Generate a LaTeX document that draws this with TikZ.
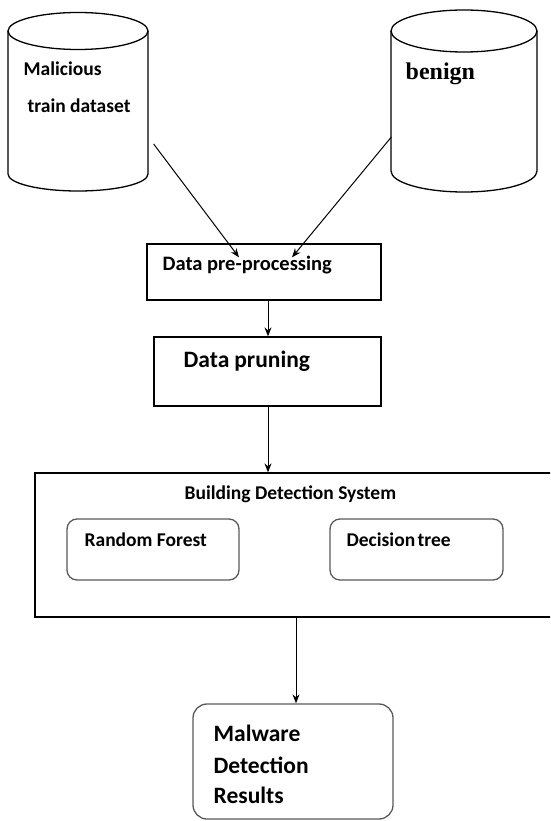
\documentclass[tikz,border=0pt]{standalone}
\usepackage{fontspec}
\setmainfont{Carlito}
\newfontfamily\serifbold{Liberation Serif}
\usetikzlibrary{arrows.meta,shapes.geometric}
\begin{document}
\begin{tikzpicture}[x=1pt,y=-1pt,
  line width=1.3pt,
  arr/.style={-{Stealth[length=9pt,width=7pt]}, line width=1pt},
  plainbox/.style={draw, rectangle, inner sep=0pt},
  softbox/.style={draw=black!65, rectangle, rounded corners=10pt, inner sep=0pt},
  rim/.style={draw, ellipse, inner sep=0pt},
  lbl/.style={anchor=base west, inner sep=0pt, font=\bfseries\fontsize{19.5}{22}\selectfont},
  biglbl/.style={anchor=base west, inner sep=0pt, font=\bfseries\fontsize{23.5}{26}\selectfont}]
\useasboundingbox (0,0) rectangle (550,821);
\clip (0,0) rectangle (550,821);

% data stores: side walls with the lower rim, then the top rim
\node (mal) [minimum width=140pt, minimum height=178pt, inner sep=0pt] at (78,102) {};
\draw (8,31) -- (8,174) arc[start angle=180, end angle=360, x radius=70pt, y radius=17pt] -- (148,31);
\node[rim, minimum width=140pt, minimum height=37pt] (maltop) at (78,31) {};
\node (ben) [minimum width=146pt, minimum height=183pt, inner sep=0pt] at (464,100.5) {};
\draw (391,31) -- (391,171) arc[start angle=180, end angle=360, x radius=73pt, y radius=21pt] -- (537,31);
\node[rim, minimum width=146pt, minimum height=42pt] (bentop) at (464,31) {};
\node[lbl] (maltxt1) at (23,76) {Malicious};
\node[lbl] (maltxt2) at (27,113) {train dataset};
\node[anchor=base west, inner sep=0pt, font=\serifbold\bfseries\fontsize{24}{27}\selectfont] (bentxt) at (405,80) {benign};

% processing steps
\node[plainbox, minimum width=234pt, minimum height=56pt] (pre) at (264,272) {};
\node[lbl, font=\bfseries\fontsize{20.5}{23}\selectfont] (pretxt) at (162,270) {Data pre-processing};
\node[plainbox, minimum width=227pt, minimum height=69pt] (prune) at (267.5,371.5) {};
\node[biglbl] (prunetxt) at (183,367) {Data\hspace{5pt}pruning};

% detection system
\node[plainbox, minimum width=518pt, minimum height=144pt] (build) at (294,545) {};
\node[lbl] (buildtxt) at (184,499) {Building Detection System};
\node[softbox, minimum width=172pt, minimum height=61pt] (rf) at (153,549.5) {};
\node[lbl] (rftxt) at (84,546) {Random Forest};
\node[softbox, minimum width=173pt, minimum height=61pt] (dt) at (416.5,549.5) {};
\node[lbl] (dttxt) at (346,546) {Decision\hspace{-2pt} tree};

% results
\node[softbox, rounded corners=14pt, minimum width=200pt, minimum height=115pt] (res) at (293,761.5) {};
\node[biglbl] (restxt1) at (213,741) {Malware};
\node[biglbl] (restxt2) at (213,773) {Detection};
\node[biglbl] (restxt3) at (213,803) {Results};

% connectors
\draw[arr] ([shift={(5pt,-42pt)}]mal.east) -- ([shift={(-25pt,-14pt)}]pre.north);
\draw[arr] ([shift={(1pt,-36.5pt)}]ben.west) -- ([shift={(28pt,-14pt)}]pre.north);
\draw[arr] ([xshift=4pt]pre.south) -- ([xshift=0.5pt]prune.north);
\draw[arr] ([xshift=0.5pt]prune.south) -- ([xshift=-26pt]build.north);
\draw[arr] ([xshift=2pt]build.south) -- ([xshift=3pt]res.north);
\end{tikzpicture}
\end{document}
